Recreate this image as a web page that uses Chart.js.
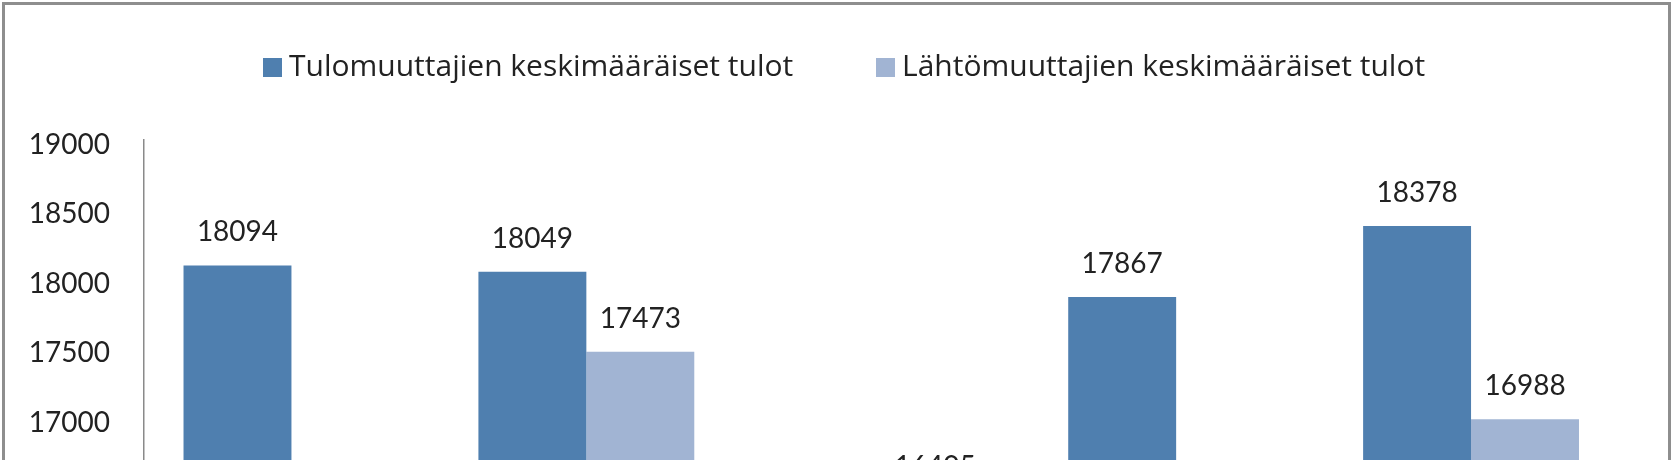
<!DOCTYPE html>
<html>
<head>
<meta charset="utf-8">
<script src="https://cdn.jsdelivr.net/npm/chart.js@4.4.0/dist/chart.umd.min.js"></script>
<style>
html, body { margin: 0; padding: 0; background: #fff; overflow: hidden; }
#wrap { position: relative; width: 1677px; height: 460px; overflow: hidden; }
#frame { position: absolute; left: 2px; top: 2px; width: 1669px; height: 900px; border: 3px solid #8e8e8e; box-sizing: border-box; }
#chart { position: absolute; left: 0; top: 0; }
.leg { position: absolute; top: 47px; font: 30px "Open Sans", sans-serif; color: #222; line-height: 36px; white-space: nowrap; }
.leg .sw { display: inline-block; width: 19px; height: 19px; margin-right: 7px; vertical-align: -1px; }
</style>
</head>
<body>
<div id="wrap">
  <div id="frame"></div>
  <canvas id="chart" width="1677" height="780"></canvas>
</div>
<script>
// luettu kuvasta; alimmat arvot eivät näy kuvassa, arvioitu
const categories = ['2005', '2006', '2007', '2008', '2009']
const seriesNames = ['Tulomuuttajien keskimääräiset tulot', 'Lähtömuuttajien keskimääräiset tulot']
const tuloValues = [18094, 18049, 16210, 17867, 18378]
const lahtoValues = [16150, 17473, 16405, 16050, 16988]
const yMin = 15000
const yMax = 19000
const yStep = 500

const colors = ['#4f7faf', '#a1b4d3']
const legendX = [263, 876]

// legend html:nä, jotta sijainti osuu
seriesNames.forEach(function (name, i) {
  let el = document.createElement('div')
  el.className = 'leg'
  el.style.left = legendX[i] + 'px'
  let sw = document.createElement('span')
  sw.className = 'sw'
  sw.style.background = colors[i]
  el.appendChild(sw)
  el.appendChild(document.createTextNode(name))
  document.getElementById('wrap').appendChild(el)
})

const valueLabels = {
  id: 'valueLabels',
  afterDatasetsDraw(chart) {
    let ctx = chart.ctx
    ctx.save()
    ctx.font = '28px Lato'
    ctx.fillStyle = '#222'
    ctx.textAlign = 'center'
    ctx.textBaseline = 'alphabetic'
    chart.data.datasets.forEach(function (ds, i) {
      chart.getDatasetMeta(i).data.forEach(function (bar, j) {
        ctx.fillText(ds.data[j], bar.x, bar.y - 24)
      })
    })
    ctx.restore()
  }
}

new Chart(document.getElementById('chart').getContext('2d'), {
  type: 'bar',
  data: {
    labels: categories,
    datasets: [
      { label: seriesNames[0], data: tuloValues, backgroundColor: colors[0] },
      { label: seriesNames[1], data: lahtoValues, backgroundColor: colors[1] }
    ]
  },
  options: {
    responsive: false,
    animation: false,
    devicePixelRatio: 1,
    barPercentage: 1,
    categoryPercentage: 0.732,
    layout: { padding: { left: 28, right: 58.5, top: 139.5, bottom: 34.5 } },
    plugins: { legend: { display: false }, tooltip: { enabled: false } },
    scales: {
      x: {
        grid: { display: false, drawTicks: false },
        border: { color: '#8a8a8a', width: 1.5 },
        ticks: { font: { family: 'Lato', size: 28 }, color: '#222', padding: 8 },
        afterFit: function (s) { s.height = 50 }
      },
      y: {
        min: yMin,
        max: yMax,
        grid: { display: false, drawTicks: false },
        border: { color: '#8a8a8a', width: 1.5 },
        ticks: {
          stepSize: yStep,
          font: { family: 'Lato', size: 28 },
          color: '#222',
          padding: 34,
          labelOffset: 5,
          callback: function (v) { return String(v) }
        },
        afterFit: function (s) { s.width = 116 }
      }
    }
  },
  plugins: [valueLabels]
})
</script>
</body>
</html>
